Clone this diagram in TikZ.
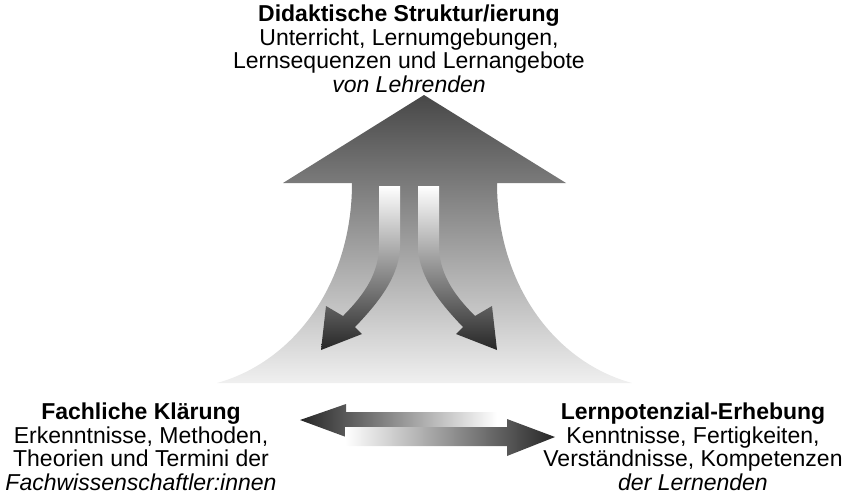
\documentclass[tikz,border=0pt]{standalone}
\usepackage{fontspec}
\setmainfont{Liberation Sans}
\begin{document}
\begin{tikzpicture}[x=1pt,y=-1pt,
  txt/.style={align=center,font=\fontsize{23}{23.5}\selectfont,inner sep=0pt}]
\useasboundingbox (0,0) rectangle (850,496);
% big arrow
\shade[top color=black!72,bottom color=black!6]
 (424,95) -- (566,183) -- (497,183) .. controls (497,285) and (555,362) .. (632,383)
 -- (217,383) .. controls (293,362) and (352,285) .. (352,183) -- (283,183) -- cycle;
% inner left arrow
\shade[top color=white,bottom color=black!85]
 (379,186) -- (379,245) .. controls (379,272) and (366,293) .. (343,316)
 -- (326,306) -- (321,350) -- (362,334) -- (355,327)
 .. controls (383,298) and (400,273) .. (400,245) -- (400,186) -- cycle;
% inner right arrow (mirror)
\shade[top color=white,bottom color=black!85]
 (439,186) -- (439,245) .. controls (439,272) and (452,293) .. (475,316)
 -- (492,306) -- (497,350) -- (456,334) -- (463,327)
 .. controls (435,298) and (418,273) .. (418,245) -- (418,186) -- cycle;
% horizontal arrows
\shade[left color=black!85,right color=white]
 (300,420) -- (346,404) -- (346,412) -- (497,412) -- (497,429) -- (346,429) -- (346,437) -- cycle;
\shade[left color=white,right color=black!85]
 (345,427) -- (507,427) -- (507,419) -- (555,437) -- (507,456) -- (507,446) -- (345,446) -- cycle;
\node[txt] (top) at (409,49) {\textbf{Didaktische Struktur/ierung}\\Unterricht, Lernumgebungen,\\Lernsequenzen und Lernangebote\\\textit{von Lehrenden}};
\node[txt] (left) at (141,447) {\textbf{Fachliche Klärung}\\Erkenntnisse, Methoden,\\Theorien und Termini der\\\textit{Fachwissenschaftler:innen}};
\node[txt] (right) at (693,447) {\textbf{Lernpotenzial-Erhebung}\\Kenntnisse, Fertigkeiten,\\Verständnisse, Kompetenzen\\\textit{der Lernenden}};
\end{tikzpicture}
\end{document}
